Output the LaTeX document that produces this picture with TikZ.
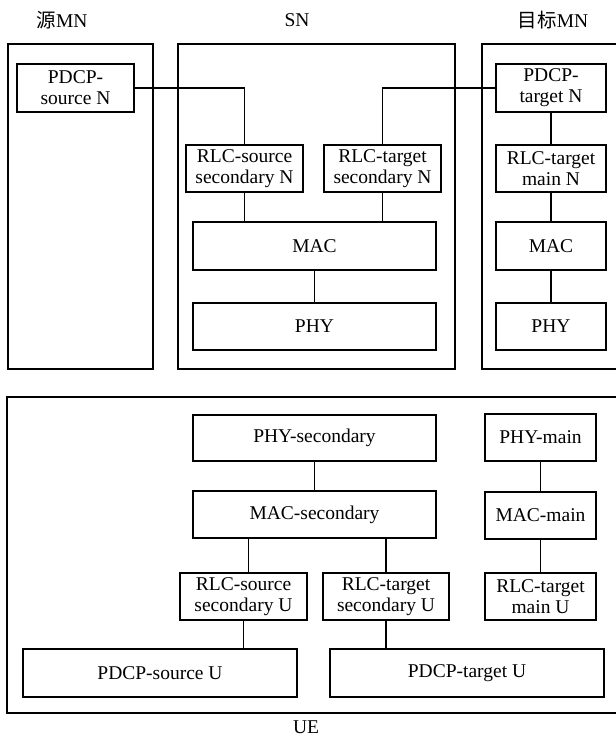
\documentclass[tikz,border=0pt]{standalone}
\usepackage{fontspec}
\setmainfont{Liberation Serif}
\newfontfamily\cjk{Noto Sans CJK SC}
\begin{document}
\begin{tikzpicture}[x=1pt,y=-1pt,
  every node/.style={font=\fontsize{19.5}{21}\selectfont},
  layer/.style={draw,line width=1.6pt,inner sep=0pt,align=center},
  frame/.style={draw,line width=1.8pt,inner sep=0pt},
  link/.style={line width=1.6pt},
  title/.style={inner sep=0pt,anchor=center}]
\useasboundingbox (0,0) rectangle (616,745);
\begin{scope}
\clip (0,0) rectangle (616,745);

% box placed by its corners: #1 name, #2..#5 left, top, right, bottom, #6 text
\newcommand\layerbox[6]{%
  \node[layer,minimum width={#4-#2},minimum height={#5-#3}] (#1) at ({(#2+#4)/2},{(#3+#5)/2}) {#6};}
\newcommand\outerframe[5]{%
  \node[frame,minimum width={#4-#2},minimum height={#5-#3}] (#1) at ({(#2+#4)/2},{(#3+#5)/2}) {};}

% outer frames
\outerframe{srcmn}{8}{44}{153}{369}
\outerframe{sn}{178}{44}{455}{369}
\outerframe{tgtmn}{482}{44}{640}{369}
\outerframe{ue}{7}{397}{640}{713}

% titles
\node[title] (tsrc) at (62,20) {{\cjk 源}MN};
\node[title] (tsn) at (297,20) {SN};
\node[title] (ttgt) at (553,20) {{\cjk 目标}MN};
\node[title] (tue) at (306,727) {UE};

% source MN
\layerbox{pdcpsn}{17}{64}{134}{112}{PDCP-\\source N}

% SN stack
\layerbox{rlcssn}{186}{145}{303}{192}{RLC-source\\secondary N}
\layerbox{rlctsn}{324}{145}{441}{192}{RLC-target\\secondary N}
\layerbox{macsn}{193}{222}{436}{270}{MAC}
\layerbox{physn}{193}{303}{436}{350}{PHY}

% target MN stack
\layerbox{pdcptn}{496}{64}{606}{112}{PDCP-\\target N}
\layerbox{rlctmn}{496}{145}{606}{192}{RLC-target\\main N}
\layerbox{macmn}{496}{222}{606}{270}{MAC}
\layerbox{phymn}{496}{303}{606}{350}{PHY}

% UE stack
\layerbox{physu}{193}{415}{436}{461}{PHY-secondary}
\layerbox{macsu}{193}{491}{436}{538}{MAC-secondary}
\layerbox{rlcssu}{180}{573}{307}{620}{RLC-source\\secondary U}
\layerbox{rlctsu}{323}{573}{449}{620}{RLC-target\\secondary U}
\layerbox{pdcpsu}{23}{649}{297}{697}{PDCP-source U}
\layerbox{pdcptu}{330}{649}{604}{697}{PDCP-target U}
\layerbox{phymu}{485}{414}{596}{461}{PHY-main}
\layerbox{macmu}{485}{492}{596}{539}{MAC-main}
\layerbox{rlctmu}{485}{573}{596}{620}{RLC-target\\main U}

% network side links
\draw[link] (pdcpsn.east) -| (rlcssn.north);
\draw[link] (pdcptn.west) -| (rlctsn.north);
\draw[link] (rlcssn.south) -- (rlcssn.south |- macsn.north);
\draw[link] (rlctsn.south) -- (rlctsn.south |- macsn.north);
\draw[link] (macsn.south) -- (physn.north);
\draw[link] (pdcptn.south) -- (rlctmn.north);
\draw[link] (rlctmn.south) -- (macmn.north);
\draw[link] (macmn.south) -- (phymn.north);

% UE side links
\draw[link] (physu.south) -- (macsu.north);
\draw[link] ([xshift=5pt]rlcssu.north) -- ([xshift=5pt]rlcssu.north |- macsu.south);
\draw[link] (rlctsu.north) -- (rlctsu.north |- macsu.south);
\draw[link] (rlcssu.south) -- (rlcssu.south |- pdcpsu.north);
\draw[link] (rlctsu.south) -- (rlctsu.south |- pdcptu.north);
\draw[link] (phymu.south) -- (macmu.north);
\draw[link] (macmu.south) -- (rlctmu.north);
\end{scope}
\end{tikzpicture}
\end{document}
